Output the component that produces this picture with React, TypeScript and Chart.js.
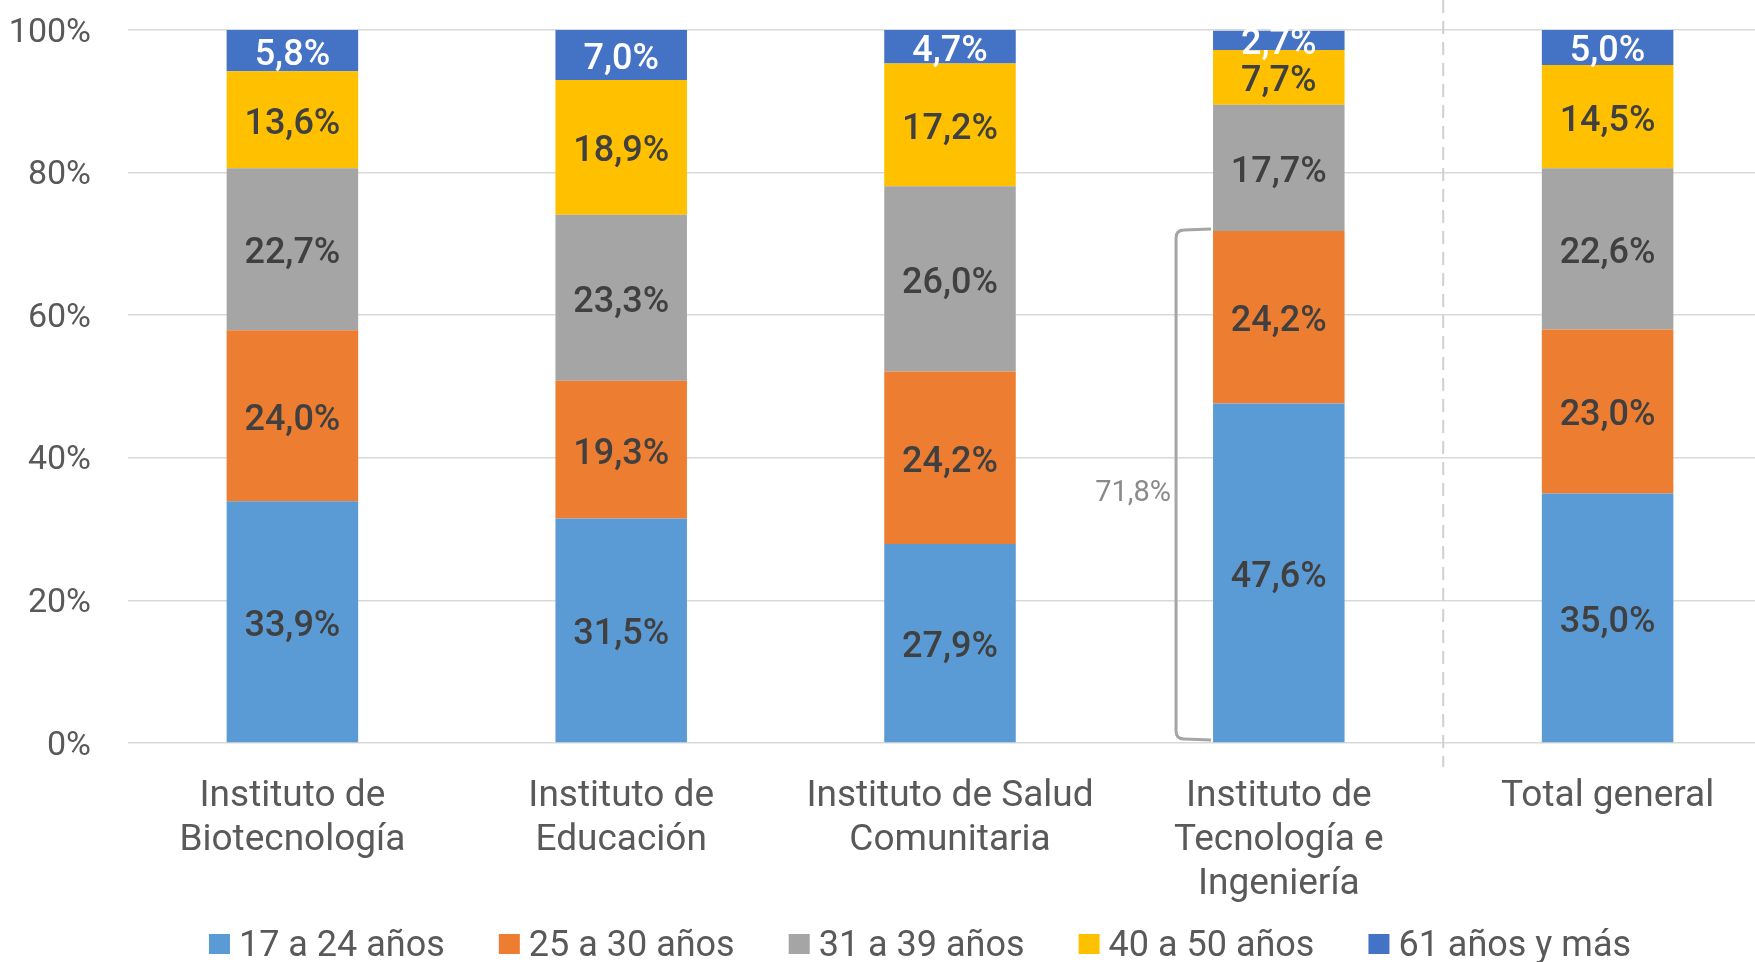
import React, { useEffect, useRef } from "react";
import { Chart, registerables } from "chart.js";

Chart.register(...registerables);

// ---- Data ----
const categories: (string | string[])[] = [
  ["Instituto de", "Biotecnología"],
  ["Instituto de", "Educación"],
  ["Instituto de Salud", "Comunitaria"],
  ["Instituto de", "Tecnología e", "Ingeniería"],
  "Total general",
];
const seriesNames = ["17 a 24 años", "25 a 30 años", "31 a 39 años", "40 a 50 años", "61 años y más"];
const age17to24 = [33.9, 31.5, 27.9, 47.6, 35.0];
const age25to30 = [24.0, 19.3, 24.2, 24.2, 23.0];
const age31to39 = [22.7, 23.3, 26.0, 17.7, 22.6];
const age40to50 = [13.6, 18.9, 17.2, 7.7, 14.5];
const age61plus = [5.8, 7.0, 4.7, 2.7, 5.0];
const seriesValues = [age17to24, age25to30, age31to39, age40to50, age61plus];
const seriesColors = ["#5B9BD5", "#ED7D31", "#A5A5A5", "#FFC000", "#4472C4"];
const labelColors = ["#404040", "#404040", "#404040", "#404040", "#FFFFFF"];
const yTickValues = [0, 20, 40, 60, 80, 100];
const bracketCategory = 3; // Instituto de Tecnología e Ingeniería
const bracketSeries = [0, 1]; // 17-24 + 25-30
const separatorAfter = 3; // dashed line before "Total general"

// ---- Layout constants ----
const CANVAS_W = 1840;
const CANVAS_H = 962;
const FONT = "Roboto";
const LEGEND_FONT = 36;
const LEGEND_RESERVE = 40;
const LEGEND_CENTER_Y = 946;
const PLOT_TOP = 30;
const PLOT_BOTTOM = 743;
const Y_AXIS_W = 128;

const fmt = (v: number) => v.toFixed(1).replace(".", ",") + "%";

const dataLabelPlugin = {
  id: "dataLabels",
  afterDatasetsDraw(chart: any) {
    const ctx = chart.ctx;
    ctx.save();
    ctx.font = `500 36px ${FONT}`;
    ctx.textAlign = "center";
    ctx.textBaseline = "middle";
    chart.data.datasets.forEach((ds: any, di: number) => {
      const meta = chart.getDatasetMeta(di);
      meta.data.forEach((bar: any, i: number) => {
        const { x, y, base } = bar.getProps(["x", "y", "base"], true);
        ctx.fillStyle = labelColors[di];
        ctx.fillText(fmt(ds.data[i]), x, (y + base) / 2 + 5);
      });
    });
    ctx.restore();
  },
};

const bracketPlugin = {
  id: "bracket",
  afterDatasetsDraw(chart: any) {
    const ctx = chart.ctx;
    const yScale = chart.scales.y;
    const bar = chart.getDatasetMeta(0).data[bracketCategory];
    const { x, width } = bar.getProps(["x", "width"], true);
    const left = x - width / 2;
    const total = bracketSeries.reduce((s, k) => s + seriesValues[k][bracketCategory], 0);
    const yTop = yScale.getPixelForValue(total) - 2;
    const yBot = yScale.getPixelForValue(0) - 4;
    const bx = left - 37;
    const r = 8;
    ctx.save();
    ctx.strokeStyle = "#A5A5A5";
    ctx.lineWidth = 3;
    ctx.beginPath();
    ctx.moveTo(left - 2, yTop);
    ctx.lineTo(bx + r, yTop + 1);
    ctx.quadraticCurveTo(bx, yTop + 1, bx, yTop + r + 1);
    ctx.lineTo(bx, yBot - r);
    ctx.quadraticCurveTo(bx, yBot, bx + r, yBot);
    ctx.lineTo(left - 2, yBot + 1);
    ctx.stroke();
    ctx.font = `400 29px ${FONT}`;
    ctx.fillStyle = "#8A8A8A";
    ctx.textAlign = "right";
    ctx.textBaseline = "middle";
    ctx.fillText(fmt(total), bx - 5, (yTop + yBot) / 2 + 10);
    ctx.restore();
  },
};

const separatorPlugin = {
  id: "separator",
  beforeDatasetsDraw(chart: any) {
    const ctx = chart.ctx;
    const xScale = chart.scales.x;
    const yScale = chart.scales.y;
    const sx = xScale.getPixelForValue(separatorAfter + 0.5);
    ctx.save();
    ctx.strokeStyle = "#D0D0D0";
    ctx.lineWidth = 2;
    ctx.setLineDash([13, 8]);
    ctx.beginPath();
    ctx.moveTo(sx, 0);
    ctx.lineTo(sx, yScale.getPixelForValue(0) + 24);
    ctx.stroke();
    ctx.restore();
  },
};

const legendPlugin = {
  id: "bottomLegend",
  afterDraw(chart: any) {
    const ctx = chart.ctx;
    const boxW = 21;
    const boxH = 20;
    const gap = 9;
    const itemGap = 54;
    ctx.save();
    ctx.font = `400 ${LEGEND_FONT}px ${FONT}`;
    const items = chart.data.datasets.map((ds: any) => ({
      text: ds.label,
      color: ds.backgroundColor,
      w: ctx.measureText(ds.label).width,
    }));
    const total =
      items.reduce((s: number, it: any) => s + boxW + gap + it.w, 0) + itemGap * (items.length - 1);
    let cx = chart.width / 2 - total / 2;
    ctx.textAlign = "left";
    ctx.textBaseline = "middle";
    items.forEach((it: any) => {
      ctx.fillStyle = it.color;
      ctx.fillRect(cx, LEGEND_CENTER_Y - boxH / 2 - 2, boxW, boxH);
      ctx.fillStyle = "#595959";
      ctx.fillText(it.text, cx + boxW + gap, LEGEND_CENTER_Y + 1);
      cx += boxW + gap + it.w + itemGap;
    });
    ctx.restore();
  },
};

export default function App() {
  const ref = useRef<HTMLCanvasElement | null>(null);

  useEffect(() => {
    if (!ref.current) return;
    const chart = new Chart(ref.current, {
      type: "bar",
      data: {
        labels: categories as any,
        datasets: seriesValues.map((vals, k) => ({
          label: seriesNames[k],
          data: vals,
          backgroundColor: seriesColors[k],
          borderWidth: 0,
          categoryPercentage: 0.4,
          barPercentage: 1,
        })),
      },
      options: {
        responsive: false,
        animation: false,
        devicePixelRatio: 1,
        layout: { padding: { top: PLOT_TOP, right: 68, left: 0, bottom: LEGEND_RESERVE } },
        plugins: {
          tooltip: { enabled: false },
          legend: { display: false },
        },
        scales: {
          x: {
            stacked: true,
            grid: { display: false, drawTicks: false },
            border: { display: false },
            ticks: {
              color: "#595959",
              font: { family: FONT, size: 37, lineHeight: 44 / 37 },
              padding: 32,
              maxRotation: 0,
              autoSkip: false,
            },
            afterFit(scale: any) {
              scale.height = CANVAS_H - LEGEND_RESERVE - PLOT_BOTTOM;
            },
          },
          y: {
            stacked: true,
            min: 0,
            max: 100,
            afterBuildTicks(scale: any) {
              scale.ticks = yTickValues.map((v) => ({ value: v }));
            },
            grid: { color: "#D9D9D9", lineWidth: 1.5, drawTicks: false },
            border: { display: false },
            ticks: {
              color: "#595959",
              font: { family: FONT, size: 34 },
              padding: 37,
              labelOffset: 3,
              callback: (v: any) => v + "%",
            },
            afterFit(scale: any) {
              scale.width = Y_AXIS_W;
              scale.paddingTop = 0;
              scale.paddingBottom = 0;
            },
          },
        },
      },
      plugins: [separatorPlugin, dataLabelPlugin, bracketPlugin, legendPlugin],
    });
    return () => chart.destroy();
  }, []);

  return (
    <div
      style={{
        position: "fixed",
        left: 0,
        top: 0,
        width: 1755,
        height: 962,
        overflow: "hidden",
        background: "#FFFFFF",
      }}
    >
      <canvas
        ref={ref}
        width={CANVAS_W}
        height={CANVAS_H}
        style={{ width: CANVAS_W, height: CANVAS_H, display: "block" }}
      />
    </div>
  );
}
